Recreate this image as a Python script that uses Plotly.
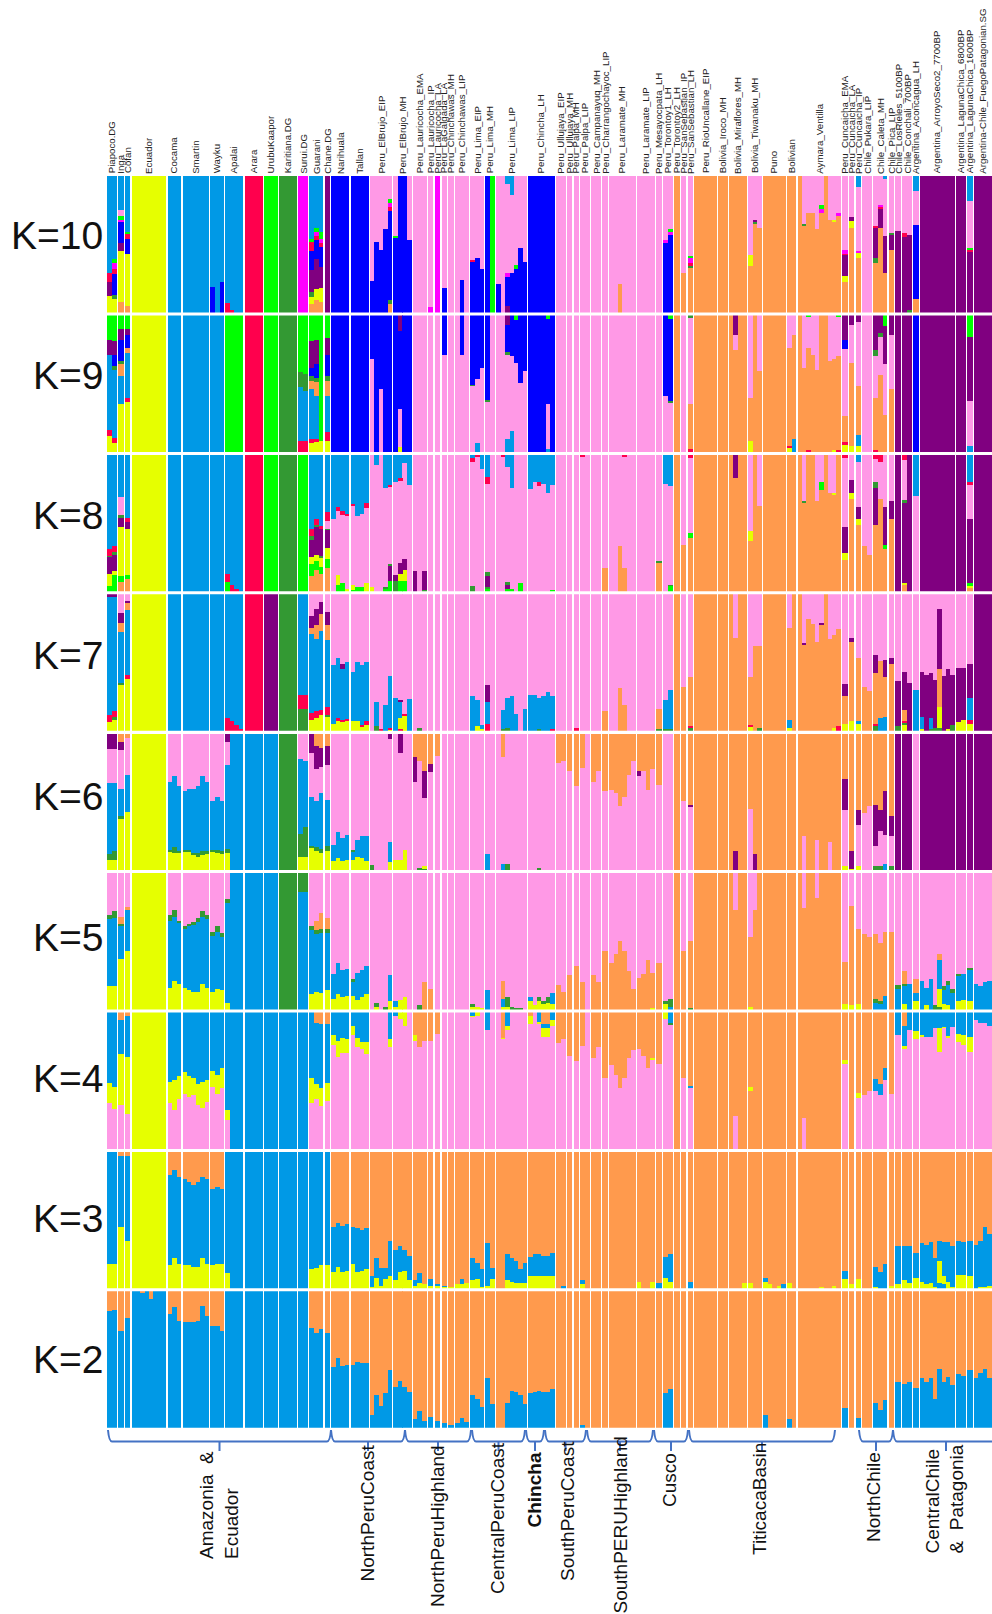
import re
import plotly.graph_objects as go

COLORS = {"b": "#0099E6", "o": "#FF9A4D", "y": "#E6FF00", "p": "#FF99E6", "g": "#339933",
          "r": "#FF004D", "v": "#800080", "B": "#0000FF", "l": "#00FF00", "m": "#FF00FF"}

POPS = [("Pia","Piapoco.DG",2),("Inga","Inga",1),("Cof","Cofan",1),("Ecu","Ecuador",8),("Coc","Cocama",3),
 ("Sma","Smartin",6),("Way","Wayku",3),("Apa","Apalai",4),("Ara","Arara",4),("Uru","UrubuKaapor",3),
 ("Kar","Karitiana.DG",4),("Sur","Surui.DG",2),("Gua","Guarani",3),("Cha","Chane.DG",1),("Nar","Narihuala",4),
 ("Tal","Tallan",4),("BrE","Peru_ElBrujo_EIP",5),("BrM","Peru_ElBrujo_MH",4),("LaE","Peru_Lauricocha_EMA",3),
 ("LaI","Peru_Lauricocha_IP",1),("LaL","Peru_Lauricocha_LA",1),("Gal","Peru_LaGalgada_LA",1),
 ("ChM","Peru_Chinchawas_MH",1),("ChL","Peru_Chinchawas_LIP",3),("LiE","Peru_Lima_EIP",3),("LiM","Peru_Lima_MH",2),
 ("LiL","Peru_Lima_LIP",7),("Chi","Peru_Chincha_LH",6),("UlE","Peru_Ullujaya_EIP",2),("UlM","Peru_Ullujaya_MH",1),
 ("PaM","Peru_Palpa_MH",1),("PaL","Peru_Palpa_LIP",2),("Cam","Peru_Campanayuq_MH",2),("Chr","Peru_Charrangochayoc_LIP",1),
 ("LrM","Peru_Laramate_MH",6),("LrL","Peru_Laramate_LIP",4),("Mes","Peru_Mesayocpata_LH",1),("To1","Peru_Torontoy1_LH",2),
 ("To2","Peru_Torontoy2_LH",1),("SsI","Peru_SanSebastian_IP",1),("SsL","Peru_SanSebastian_LH",1),("Rio","Peru_RioUncallane_EIP",5),
 ("Iro","Bolivia_Iroco_MH",2),("Mir","Bolivia_Miraflores_MH",4),("Tiw","Bolivia_Tiwanaku_MH",3),("Pun","Puno",5),
 ("Bol","Bolivian",2),("Aym","Aymara_Ventilla",10),("CuE","Peru_Cuncaicha_EMA",1),("CuL","Peru_Cuncaicha_LA",1),
 ("CuI","Peru_Cuncaicha_IP",1),("Puk","Chile_Pukara_LIP",2),("Cal","Chile_Caleta_MH",3),("Pic","Chile_Pica_LIP",1),
 ("Rie","Chile_LosRieles_5100BP",1),("Con","Chile_Conchali_700BP",2),("Aco","Argentina_Aconcagua_LH",1),
 ("Arr","Argentina_ArroyoSeco2_7700BP",8),("Lc6","Argentina_LagunaChica_6800BP",2),("Lc1","Argentina_LagunaChica_1600BP",1),
 ("Fue","Argentina-Chile_FuegoPatagonian.SG",4)]

# Every string: individuals split by "/", each one lists ancestry shares from top to bottom.
K10 = {"_":"p","Pia":"b71 r7 v10 y12/b61 l3 m4 r4 B15 g3 y10","Inga":"b25 p4 l3 m1 B16 v6 y37 o8","Cof":"b41 l1 r4 B11 y38 o5",
 "Ecu":"y","Coc":"b","Sma":"b","Way":"b81 B19/b/b78 B22","Apa":"b93 r7/b98 r2/b/b","Ara":"r","Uru":"l","Kar":"g","Sur":"m",
 "Gua":"b46 l2 r7 B14 v16 g4 y5 o6/b38 l3 m3 r3 B14 v22 y8 o9/b41 l5 m3 r3 B15 v15 y10 o8","Cha":"v","Nar":"B","Tal":"B",
 "BrE":"p77 B23/p48 B52/p54 B46/p39 B61/p17 l3 m3 r3 B65 g3 o6","BrM":"p44 l1 B55/B/B/p47 B53","LaI":"p96 m4","LaL":"m","Gal":"p82 B18",
 "ChL":"p/p76 B24/p","LiE":"p62 r1 B37/p60 B40/p68 B32","LiM":"B/l","LiL":"p79 B21/p/b6 p65 m3 B21 v5/b14 p57 B29/p65 l3 B32/p53 B47/p63 B37",
 "Chi":"B","LrM":"p/p/p79 o21/p/p/p","To1":"p47 m2 B51/p39 l2 m2 B57","To2":"o","SsI":"p71 o29","SsL":"p59 l1 m4 r2 g1 o33","Rio":"o","Iro":"o","Mir":"o",
 "Tiw":"p58 y8 o34/p32 v2 g1 o65/p38 o62","Pun":"o","Bol":"o","Aym":"o/p35 g1 o64/p27 o73/p27 o73/p39 o61/p21 l3 m3 o73/o/p32 o68/p32 y1 o67/p27 m2 o71",
 "CuE":"p54 m3 r1 v15 y5 o22","CuL":"p30 v3 y5 o62","CuI":"b8 p47 m1 y4 o40","Cal":"p37 r1 v22 g4 o36/p21 m2 r1 v14 o62/b2 p42 v27 o29",
 "Pic":"p42 g1 v11 o46","Rie":"p40 v60","Con":"p42 r3 v55/p43 v55 g2","Aco":"b11 p25 B54 o10","Arr":"v","Lc6":"v","Lc1":"b18 p35 l1 r2 v44","Fue":"v"}

K9 = {"_":"p","Pia":"l18 v11 b55 r5 y11/l19 v10 B8 g3 b50 r4 y6","Inga":"l10 v8 B16 g2 o9 b20 y35","Cof":"l10 v5 B9 o4 b33 r3 y36","Ecu":"y","Coc":"b","Sma":"b","Way":"b",
 "Apa":"l","Ara":"r","Uru":"l","Kar":"g","Sur":"l42 g11 b39 r8/l43 g13 b36 r8","Gua":"l19 v20 B6 g3 o6 b37 r3 y6/l18 v18 B10 g3 o10 b32 r2 y7/l92 y8",
 "Cha":"l17 v12 B16 g3 o11 b27 r6 y8","Nar":"B","Tal":"B","BrE":"B32 p68/B/B54 p46/B/B","BrM":"B/v12 B57 p28 y3/B/B","Gal":"B29 p71",
 "ChL":"p/B29 p71/p","LiE":"B51 g1 p48/B47 p47 b6/B39 p61","LiM":"B62 g2 p36/p","LiL":"p/p/v7 B20 g2 p62 b9/B30 p55 b15/l4 B31 p65/B50 p50/B41 p59",
 "Chi":"B/B/B/B/l3 B62 p33 b2/B","To1":"B59 p41/l3 B60 g1 p36","To2":"o","SsL":"g2 p63 o33 r2","Rio":"o","Iro":"o","Mir":"o/v15 p11 o74/o/o","Tiw":"p61 o31 y8/o/p41 o59",
 "Pun":"o","Bol":"p24 o72 r1 y3/p15 o76 b9","Aym":"o/p39 o61/l1 p23 o75 r1/p29 o71/p40 o60/o/o/p34 o66/p32 o67 y1/l1 p29 o69 r1",
 "CuE":"v18 B7 p49 o19 r2 y5","CuL":"v7 p28 o61 y4","CuI":"v5 p47 o36 b8 y4","Cal":"v26 g4 p31 o38 r1/v13 g3 p28 o56/l8 v28 p37 o27","Pic":"v15 p39 o46",
 "Rie":"v","Con":"v","Aco":"B","Arr":"v","Lc6":"v","Lc1":"l16 v47 p33 b4","Fue":"v"}

K8 = {"_":"p","Pia":"b69 r5 g1 v12 y9 l4/b67 r4 g2 v12 y3 l12","Inga":"b31 p13 g2 v7 y36 l4 o7","Cof":"b46 r3 v5 y34 l3 o9","Ecu":"y","Coc":"b","Sma":"b","Way":"b",
 "Apa":"b87 r6 l7/b95 r5/b98 r2/b","Ara":"r","Uru":"l","Kar":"g","Sur":"l","Gua":"b54 r5 g3 v13 y5 l9 o11/b47 r4 g2 v20 y5 l6 o16/b52 r2 v20 g1 y7 l5 o13",
 "Cha":"b42 r6 p6 g1 v13 y8 l7 o17","Nar":"b47 p53/b38 r3 p47 y7 l5/b41 r3 p50 l6/b43 r1 p54 y2","Tal":"b36 r1 p58 y4 l1/b45 p52 l3/b43 p54 l3/b35 r4 p55 y6",
 "BrE":"p97 y3/b7 p93/p/b24 p73 g1 l2/b22 r1 p57 g1 v11 l8","BrM":"b20 p68 v4 g8/b17 r2 p60 v8 y5 l8/b6 p70 v8 y8 l8/b22 p78",
 "LaE":"p85 v15/p/p85 v14 g1","LiE":"b2 r3 p91 g4/r1 p99/b10 p90","LiM":"b16 r5 p65 g3 v8 g1 l2/p","LiL":"p/r1 p99/b9 p84 g2 v3 l2/b24 p74 l2/p/p94 l6/p",
 "Chi":"b25 p75/b20 p80/b20 r3 p77/b21 p79/b28 p72/b22 p77 l1","PaL":"r1 p99/p","Chr":"p83 o17","LrM":"p/p/p67 o33/r1 p82 o17/p/p","Mes":"p78 g1 o21",
 "To1":"b21 p79/b23 p72 g1 l4","To2":"o","SsI":"p66 o34","SsL":"r2 p55 l4 o39","Rio":"o","Iro":"o","Mir":"o/v17 o83/o/o","Tiw":"p56 y7 o37/o/p37 o63","Pun":"o","Bol":"o",
 "Aym":"o/p34 g1 o65/o/o/p34 o66/p20 l6 o74/o/p28 o72/p28 y1 o71/o","CuE":"r2 p51 v19 y5 o23","CuL":"p18 v10 y4 o68","CuI":"b5 p33 v9 y4 o49","Puk":"p67 o33/p73 o27",
 "Cal":"r3 p17 g4 v27 o49/r5 p27 o68/p38 v28 l3 o31","Pic":"p34 v13 o53","Rie":"v","Con":"r4 p29 g2 v59 y1 o5/v","Aco":"b30 p70","Arr":"v","Lc6":"v","Lc1":"b20 r2 p25 v47 l2 y1 o3","Fue":"v"}

K7 = {"_":"p","Pia":"v2 b87 r5 y6/v2 b84 r4 g2 y8","Inga":"p14 v7 o7 b37 g1 y34","Cof":"p5 v1 o6 b47 r3 y38","Ecu":"y","Coc":"b","Sma":"b","Way":"b",
 "Apa":"b91 r9/b93 r7/b96 r4/b99 r1","Ara":"r","Uru":"v","Kar":"g","Sur":"b74 r10 g16","Gua":"p16 v9 o4 b58 r5 y8/p11 v12 o10 b53 r5 y9/p6 v9 o12 b58 r4 y11",
 "Cha":"p13 v10 o11 b49 r6 g1 y10","Nar":"p52 b43 y5/p47 b44 r2 y7/p51 v4 b37 r2 y6/p50 b42 r1 y7","Tal":"p57 b36 y7/p50 b43 y7/p52 b44 r1 y3/p50 b43 r3 y4",
 "BrE":"p/p79 b18 g3/p99 r1/p81 b19/p60 b38 r1 y1","BrM":"p76 b24/p78 v1 b12 y8 r1/p88 r1 y11/p77 b23","LaE":"p/p98 g2/p",
 "LiE":"p75 b25/p78 b19 y3/p96 b3 y1","LiM":"p67 v12 b16 r5/p","LiL":"p/p85 b14 g1/p76 b22 g2/p75 b25/p88 b12/p/p84 b16",
 "Chi":"p74 b26/p74 b26/p76 b23 g1/p75 b25/p72 b28/p75 b24 r1","PaM":"p98 r2","Chr":"p86 o14","LrM":"p/p/p69 o31/p81 o19/p/p","Mes":"p84 o15 g1",
 "To1":"p78 b21 g1/p70 b29 g1","To2":"o","SsI":"p68 o32","SsL":"p61 o36 r1 g2","Rio":"o","Iro":"o","Mir":"o/p32 o68/o/o","Tiw":"p61 o35 r1 y3/p38 o62/p38 o60 g2","Pun":"o",
 "Bol":"p25 o67 b6 y2/o","Aym":"o/p36 v1 o63/p18 o82/p22 o78/p35 o65/p21 v1 o78/o/p33 o67/p30 o68 y2/p26 o71 r3","CuE":"p66 v9 o20 y5","CuL":"p32 v3 o58 y7","CuI":"p47 o46 b2 y5",
 "Puk":"p68 o32/p71 o29","Cal":"p45 v13 o37 r2 g3/p49 o42 b9/p48 v13 o29 b10","Pic":"p47 v4 o49","Rie":"p64 v33 g3","Con":"p57 v28 o8 r1 g2 y4/p65 v35","Aco":"p70 b30",
 "Arr":"p57 v33 b9 y1/p59 v41/p58 v33 b8 g1/p63 v35 g2/p11 v44 o28 y15 g2/p60 v40/p55 v44 y1/p59 v37 g4","Lc6":"p54 v40 y6/p54 v38 y8","Lc1":"p51 v25 b16 r3 y5","Fue":"v"}

K6 = {"_":"p","Pia":"v11 p25 b52 g4 y8/v11 p25 b50 g6 y8","Inga":"o6 v6 p28 b20 g2 y38","Cof":"o3 p27 b27 y43","Ecu":"y","Coc":"p35 b50 g1 y14/p31 b52 g4 y13/p38 b48 g1 y13",
 "Sma":"p42 b43 g1 y14/p40 b45 g1 y14/p40 b47 g2 y11/p38 b49 g3 y10/p31 b55 g3 y11/p35 b51 g2 y12","Way":"p49 b36 g1 y14/p46 b39 g2 y13/p49 b37 g2 y12",
 "Apa":"v6 p17 b61 g3 y13/b/b/b","Ara":"b","Uru":"b","Kar":"g","Sur":"p18 b55 g17 y10/p20 b48 g22 y10","Gua":"v14 p32 b36 g1 y17/o9 v17 p23 b34 g3 y14/o10 v14 p19 b41 g3 y13",
 "Cha":"o9 v14 p25 b34 g4 y14","Nar":"p81 b12 y7/p72 b19 y9/p76 b17 y7/p74 b18 y8","Tal":"p85 g1 b6 y8/p78 b12 y10/p75 b16 y9/p75 b18 y7",
 "BrE":"p96 g4/p/p/p/v4 p75 b15 y6","BrM":"p92 y8/v14 p78 y8/p85 y15/p","LaE":"o17 v18 p65/o20 p78 g2/o27 v20 p50 y2 g1","LaI":"o22 v6 p72","LaL":"o16 p84",
 "LiM":"p88 b12/p","LiL":"p/o17 p78 b5/p95 g5/p/p/p/p","Chi":"p/p/p98 g2/p/p/p","UlE":"o21 p79/o20 p80","UlM":"o27 p73","PaM":"o38 p62","PaL":"o25 p75/p","Cam":"o35 p65/o27 p73","Chr":"o42 p58",
 "LrM":"o41 p59/o43 p57/o53 p47/o46 p54/o30 p70/o20 p80","LrL":"o27 v4 p69/o27 p73/o41 p59/o26 p74","Mes":"o37 p63","To2":"o","SsI":"o49 p51","SsL":"o52 v1 p47","Rio":"o","Iro":"o",
 "Mir":"o/o86 v14/o/o","Tiw":"o55 p45/o88 v12/o","Pun":"o","Bol":"o","Aym":"o/o75 p25/o/o/o78 p22/o/o/o79 p21/o/o","CuE":"o33 v23 p41 y3","CuL":"o86 v13 y1","CuI":"o56 v11 p30 y3",
 "Puk":"o58 p42/o53 p47","Cal":"o52 v30 p15 g3/o56 v15 p26 g3/o42 v32 p21 b5","Pic":"o60 v15 p22 g3","Rie":"v","Con":"v","Aco":"p","Arr":"v","Lc6":"v","Lc1":"v","Fue":"v"}

K5 = {"_":"p","Pia":"p31 g3 b49 y17/p28 g5 b50 y17","Inga":"p32 o5 g2 b24 y37","Cof":"p25 o2 b30 y43","Ecu":"y","Coc":"p31 g4 b49 y16/p27 g5 b47 y21/p35 g1 b45 y19",
 "Sma":"p39 g2 b43 y16/p37 g2 b47 y14/p36 g2 b49 y13/p33 g3 b51 y13/p28 g4 b49 y19/p31 g3 b50 y16","Way":"p43 g3 b41 y13/p39 g4 b42 y15/p44 g3 b39 y14",
 "Apa":"p19 g3 b73 y5/b/b/b","Ara":"b","Uru":"b","Kar":"g","Sur":"g14 b86","Gua":"p39 g3 b47 y11/p35 o7 g3 b42 y13/p29 o12 g3 b44 y12","Cha":"p33 o8 g3 b42 y14",
 "Nar":"p74 b18 y8/p66 b23 y11/p71 b20 y9/p70 b20 y10","Tal":"p78 g2 b10 y10/p73 b20 y7/p71 b20 y9/p68 b21 y11","BrE":"p/p95 g3 y2/p/p98 g2/p75 b19 y6",
 "BrM":"p94 b4 y2/p93 y7/p91 y9/p","LaE":"p/p97 g3/p80 o20","LaI":"p85 o15","LiE":"p96 g2 y2/p98 y2/p99 y1","LiM":"p86 b14/p","LiL":"p/p79 o13 b6 y2/p91 g7 y2/p98 g2/p99 g1/p99 g1/p",
 "Chi":"p91 b3 y6/p97 y3/p91 g3 y6/p94 g2 y4/p91 g4 y5/p88 b8 y4","UlE":"p82 o18/p87 o13","UlM":"p75 o25","PaM":"p68 o32","PaL":"p80 o20/p","Cam":"p75 o25/p80 o20","Chr":"p57 o43",
 "LrM":"p66 o34/p59 o41/p50 o50/p57 o43/p72 o28/p85 o15","LrL":"p77 o23/p74 o26/p64 o36/p73 o26 y1","Mes":"p66 o34","To1":"p94 g2 y4/p92 g6 b2","To2":"o","SsI":"p57 o43","SsL":"p50 o49 g1","Rio":"o","Iro":"o",
 "Mir":"o/p27 o73/o/o","Tiw":"p47 o51 y2/p27 o73/o","Pun":"o","Bol":"o","Aym":"o/p26 o74/o/o/p18 o82/o/o/o/o/o","CuE":"p65 o31 y4","CuL":"p24 o73 y3","CuI":"p41 o55 y4","Puk":"p45 o55/p47 o53",
 "Cal":"p45 o47 g3 b5/p51 o43 g2 b4/p43 o47 b10","Pic":"p43 o57","Rie":"p82 g3 b15","Con":"p72 o9 g2 b13 y4/p81 b19","Aco":"p78 o10 b6 y6",
 "Arr":"p79 b21/p84 b13 y3/p78 b22/p97 g3/p59 o5 b21 y13 g2/p83 g3 b10 y4/p79 g3 b15 y3/p85 g3 b12","Lc6":"p74 g1 b19 y6/p74 b19 y7","Lc1":"p70 g1 b23 y6","Fue":"p81 b19/p83 b17/p80 b20/p79 b21"}

K4 = {"_":"p","Pia":"b52 y15 p33/b55 y16 p29","Inga":"o6 b25 y37 p32","Cof":"o3 b30 y42 p25","Ecu":"y","Coc":"b51 y16 p33/b50 y22 p28/b47 y17 p36",
 "Sma":"b44 y16 p40/b47 y15 p38/b48 y13 p39/b53 y15 p32/b51 y19 p30/b50 y16 p34","Way":"b43 y12 p45/b46 y14 p40/b41 y15 p44","Apa":"b72 y7 p21/b/b/b","Ara":"b","Uru":"b","Kar":"b","Sur":"b",
 "Gua":"b48 y19 p33/o8 b45 y11 p36/o9 b47 y13 p31","Cha":"o9 b43 y13 p35","Nar":"b17 y7 p76/b21 y12 p67/b19 y11 p70/b20 y10 p70","Tal":"b10 y7 p83/b19 y7 p74/b22 y5 p73/b22 y9 p69",
 "BrE":"p/p/p/p/b20 y6 p74","BrM":"b3 p97/y5 p95/y10 p90/p","LaE":"o17 y4 p79/o26 p74/o21 p79","LaI":"o21 p79","LaL":"o16 p84","LiE":"b3 y1 p96/y3 p97/p","LiM":"b13 p87/p",
 "LiL":"p/o19 y1 p80/b10 y3 p87/p/p/p/p","Chi":"o3 y6 p91/p/b7 y2 p91/o9 b3 y6 p82/o9 b3 y6 p82/b6 y4 p90","UlE":"o23 p77/o20 p80","UlM":"o32 p68","PaM":"o36 p64","PaL":"o25 p75/p","Cam":"o34 p66/o26 p74","Chr":"o48 p52",
 "LrM":"o39 p61/o46 p54/o56 p44/o48 p52/o34 p66/o28 p72","LrL":"o27 p73/o32 p68/o41 p59/o34 y1 p65","Mes":"o38 p62","To1":"y5 p95/b8 g1 p91","To2":"o","SsI":"o48 p52","SsL":"o54 b2 p44","Rio":"o","Iro":"o",
 "Mir":"o/o76 p24/o/o","Tiw":"o55 y3 o42/o/o","Pun":"o","Bol":"o","Aym":"o/o78 p22/o/o/o/o/o/o/o/o","CuE":"o35 y3 p62","CuL":"o","CuI":"o59 y4 p37","Puk":"o61 p39/o58 p42",
 "Cal":"o49 b9 p42/o53 b8 p39/o41 b9 p50","Pic":"o60 p40","Rie":"b17 p83","Con":"o10 b15 y2 p73/b13 p87","Aco":"b14 y6 p80","Arr":"b17 y1 p82/b18 p82/b18 p82/b12 p88/b12 y17 p71/b11 y1 p88/b18 y1 p81/b11 p89",
 "Lc6":"b16 y6 p78/b17 y7 p76","Lc1":"b18 y11 p71","Fue":"b6 p94/b8 p92/b8 p92/b10 p90"}

K3 = {"_":"o","Pia":"b82 y18","Inga":"o3 b52 y45","Cof":"o3 b62 y35","Ecu":"y","Coc":"o17 b66 y17/o13 b65 y22/o18 b64 y18",
 "Sma":"o20 b63 y17/o22 b61 y17/o24 b60 y16/o22 b62 y16/o18 b60 y22/o20 b62 y18","Way":"o27 b56 y17/o26 b56 y18/o27 b55 y18","Apa":"b89 y11/b/b/b","Ara":"b","Uru":"b","Kar":"b","Sur":"b",
 "Gua":"b86 y14/b85 y15/b83 y17","Cha":"b83 y17","Nar":"o55 b33 y12/o52 b32 y16/o54 b34 y12/o53 b34 y13","Tal":"o55 b27 y18/o56 b32 y12/o57 b30 y13/o56 b30 y14",
 "BrE":"o91 b8 y1/o78 b14 y8/o85 b13 y2/o85 b8 y7/o65 b26 y9","BrM":"o72 b22 y6/o69 b19 y12/o72 b15 y13/o76 b18 y6","LaE":"o94 b4 y2/o89 b7 y4/o97 y3","LaI":"o93 b5 y2","LaL":"o97 b1 y2","Gal":"o98 b1 y1","ChM":"o99 y1",
 "ChL":"o97 y3/o93 b4 y3/o96 y4","LiE":"o78 b16 y6/o81 b12 y7/o86 b13 y1","LiM":"o67 b31 y2/o85 b8 y7","LiL":"o/o/o75 b19 y6/o78 b17 y5/o80 b16 y4/o86 b10 y4/o81 b15 y4",
 "Chi":"o77 b14 y9/o75 b16 y9/o75 b16 y9/o76 b15 y9/o76 b15 y9/o74 b17 y9","UlE":"o/o98 b2","PaL":"o94 b3 y3/o","LrL":"o95 y5/o/o/o95 y5","Mes":"o96 b4","To1":"o77 b15 y8/o75 b20 y5","SsL":"o95 b5",
 "Mir":"o/o/o/o96 y4","Tiw":"o96 y4/o/o","Pun":"o92 b3 y5/o97 y3/o/o98 y2/o97 b3","Bol":"o96 y4/o","Aym":"o/o/o/o/o/o99 y1/o/o/o98 y2/o","CuE":"o87 b6 y7","CuL":"o97 y3","CuI":"o93 y7","Cal":"o84 b15 y1/o88 b12/o82 b18","Pic":"o98 y2",
 "Rie":"o69 b28 y3","Con":"o69 b25 y6/o69 b27 y4","Aco":"o74 b18 y8","Arr":"o67 b28 y5/o68 b29 y3/o66 b30 y4/o78 b21 y1/o65 b15 y16 b4/o66 b25 y6 b3/o66 b29 y5/o69 b30 y1",
 "Lc6":"o65 b25 y10/o66 b24 y10","Lc1":"o65 b26 y9","Fue":"o68 b32/o65 b34 y1/o55 b44 y1/o60 b38 y2"}

K2 = {"_":"o","Pia":"o15 b85/o14 b86","Inga":"o29 b71","Cof":"o20 b80","Ecu":"b/b/o1 b99/b/o6 b94/b/b/b","Coc":"o17 b83/o12 b88/o22 b78",
 "Sma":"o23 b77/o23 b77/o23 b77/o22 b78/o11 b89/o18 b82","Way":"o26 b74/o26 b74/o29 b71","Apa":"b","Ara":"b","Uru":"b","Kar":"b","Sur":"b","Gua":"o27 b73/o31 b69/o28 b72","Cha":"o31 b69",
 "Nar":"o56 b44/o49 b51/o55 b45/o54 b46","Tal":"o54 b46/o52 b48/o53 b47/o53 b47","BrE":"o91 b9/o76 b24/o84 b16/o75 b25/o58 b42","BrM":"o70 b30/o66 b34/o70 b30/o74 b26",
 "LaE":"o94 b6/o88 b12/o95 b5","LaI":"o92 b8","LaL":"o95 b5","Gal":"o97 b3","ChM":"o98 b2","ChL":"o97 b3/o93 b7/o96 b4","LiE":"o76 b24/o79 b21/o85 b15","LiM":"o64 b36/o83 b17",
 "LiL":"o/o/o82 b18/o73 b27/o74 b26/o76 b24/o83 b17","Chi":"o75 b25/o74 b26/o73 b27/o74 b26/o74 b26/o72 b28","PaL":"o98 b2/o","To1":"o75 b25/o72 b28","Pun":"o91 b9/o/o/o/o","Bol":"o94 b6/o",
 "CuE":"o86 b14","CuI":"o93 b7","Cal":"o82 b18/o87 b13/o80 b20","Rie":"o67 b33","Con":"o68 b32/o67 b33","Aco":"o71 b29","Arr":"o64 b36/o67 b33/o64 b36/o79 b21/o57 b43/o67 b33/o63 b37/o69 b31",
 "Lc6":"o61 b39/o62 b38","Lc1":"o58 b42","Fue":"o64 b36/o60 b40/o57 b43/o64 b36"}

K_VALUES = [10, 9, 8, 7, 6, 5, 4, 3, 2]
PANELS = [K10, K9, K8, K7, K6, K5, K4, K3, K2]

GROUPS = ["Amazonia  &<br>Ecuador", "NorthPeruCoast", "NorthPeruHighland", "CentralPeruCoast", "<b>Chincha</b>", "SouthPeruCoast",
          "SouthPERUHighland", "Cusco", "TiticacaBasin", "NorthChile", "CentralChile<br>&  Patagonia"]

# --- layout constants (page pixels) ---
W, H = 992, 1614
X0, IND, GAP = 107.0, 4.16, 1.33
TOP, STEP, PH = 176.0, 139.4, 136.5
K_LABEL_Y = [235, 375, 516, 655, 796, 937, 1078, 1218, 1359]
BRACE_X = [(108,331),(331,405),(405,471),(472,525),(526,544),(545,586),(587,653),(654,688),(689,835),(859,893),(893,999)]
GROUP_TEXT = [(219,1450),(367,1444),(437,1444),(497,1441),(534,1452),(567,1440),(620,1436),(669,1452),(759,1442),(873,1451),(944,1444)]

def parse(ind):
    parts = [(m[0], float(m[1]) if m[1] else 100.0) for m in re.findall(r"([a-zA-Z])(\d*)", ind)]
    total = sum(v for _, v in parts)
    return [(c, v * 100.0 / total) for c, v in parts]

# population slots on the x axis
slots, pop_span, x = {}, {}, X0
for key, label, n in POPS:
    full = IND * n + GAP
    w = full / n
    slots[key] = [(x + w * (i + 0.5), w) for i in range(n)]
    pop_span[key] = (x, x + full)
    x += full + GAP

fig = go.Figure()
layout_axes = {}
for p, (k, table) in enumerate(zip(K_VALUES, PANELS)):
    axis = "y" if p == 0 else f"y{p + 1}"
    name = "yaxis" if p == 0 else f"yaxis{p + 1}"
    t = TOP + STEP * p
    layout_axes[name] = dict(domain=[1 - (t + PH) / H, 1 - t / H], range=[0, 100], visible=False,
                             fixedrange=True, anchor="x")
    rows = {c: ([], [], [], []) for c in COLORS}
    for key, label, n in POPS:
        spec = table.get(key, table["_"]).split("/")
        for i, (cx, w) in enumerate(slots[key]):
            ind = spec[i] if i < len(spec) else spec[-1]
            top = 100.0
            for c, v in parse(ind):
                top -= v
                xs, ys, bs, ws = rows[c]
                xs.append(cx); ys.append(v); bs.append(top); ws.append(w + 0.05)
    for c, (xs, ys, bs, ws) in rows.items():
        if xs:
            fig.add_trace(go.Bar(x=xs, y=ys, base=bs, width=ws, yaxis=axis, xaxis="x",
                                 marker=dict(color=COLORS[c], line=dict(width=0)),
                                 showlegend=False, hoverinfo="skip"))

ann = []
FONT = "Liberation Sans, Arial, sans-serif"
for key, label, n in POPS:
    a, b = pop_span[key]
    ann.append(dict(x=(a + b) / 2, xref="x", y=1 - 174.5 / H, yref="paper", text=label, textangle=-90, showarrow=False,
                    xanchor="center", yanchor="bottom", borderpad=0, font=dict(family=FONT, size=9.7, color="#222222")))
for k, ky in zip(K_VALUES, K_LABEL_Y):
    ann.append(dict(x=104, xref="x", y=1 - ky / H, yref="paper", text=f"K={k}", showarrow=False, xanchor="right",
                    yanchor="middle", borderpad=0, font=dict(family=FONT, size=39, color="#111111")))
for g, (gx, gy) in zip(GROUPS, GROUP_TEXT):
    ann.append(dict(x=gx, xref="x", y=1 - gy / H, yref="paper", text=g, textangle=-90, showarrow=False, xanchor="center",
                    yanchor="top", align="left", borderpad=0, font=dict(family=FONT, size=19, color="#111111")))

shapes = []
for a, b in BRACE_X:
    c = (a + b) / 2
    y0, y1, y2 = 1 - 1430 / H, 1 - 1441.5 / H, 1 - 1451 / H
    path = (f"M {a} {y0} Q {a + 1} {y1} {a + 4} {y1} L {c} {y1} L {c} {y2} L {c} {y1} L {b - 4} {y1} Q {b - 1} {y1} {b} {y0}")
    shapes.append(dict(type="path", xref="x", yref="paper", path=path, line=dict(color="#4472C4", width=2)))

fig.update_layout(width=W, height=H, autosize=False, margin=dict(l=0, r=0, t=0, b=0), paper_bgcolor="white",
                  plot_bgcolor="white", barmode="overlay", bargap=0, annotations=ann, shapes=shapes,
                  xaxis=dict(domain=[0, 1], range=[0, W], visible=False, fixedrange=True), **layout_axes)
fig.write_html("out.html", post_script="document.body.style.margin='0';", config={"displayModeBar": False})
